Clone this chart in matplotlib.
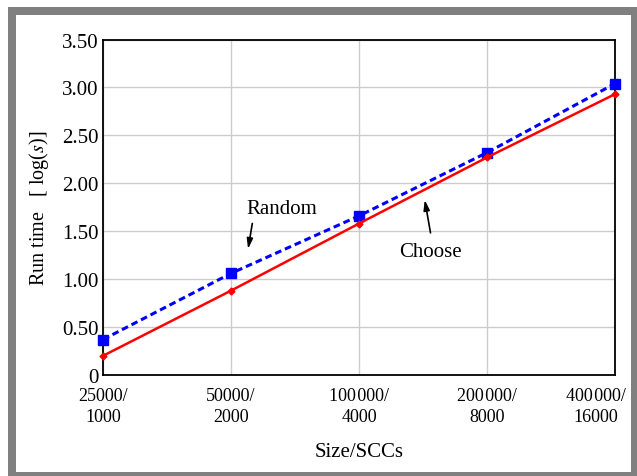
import numpy as np
import matplotlib.pyplot as plt
from matplotlib.patches import Rectangle
from matplotlib.ticker import FuncFormatter
from matplotlib.transforms import ScaledTranslation

plt.rcParams['font.family'] = ['Liberation Serif', 'DejaVu Serif']
plt.rcParams['mathtext.fontset'] = 'stix'

# data
sizes = ["25000/\n1000", "50000/\n2000", "100\u200a000/\n4000",
         "200\u200a000/\n8000", "400\u200a000/\n16000"]
random_time = [0.37, 1.06, 1.66, 2.32, 3.04]
choose_time = [0.20, 0.88, 1.58, 2.27, 2.93]

fig = plt.figure(figsize=(6.37, 4.77), dpi=100)

# grey frame round the picture
fig.patches.append(Rectangle((8/637, 0), 1 - 8/637, 469/477, transform=fig.transFigure,
                             facecolor='#808080', edgecolor='none', zorder=-10))
fig.patches.append(Rectangle((16/637, 4/477), 615/637, 457/477, transform=fig.transFigure,
                             facecolor='white', edgecolor='none', zorder=-9))

ax = fig.add_axes([103/637, 1 - 376/477, 512/637, 335.5/477])
x = np.arange(len(sizes))

ax.plot(x, random_time, color='#0000ff', lw=2.2, linestyle=(0, (2.2, 1.3)),
        marker='s', markersize=6.5, clip_on=False, zorder=3)
ax.plot(x, choose_time, color='#ff0000', lw=1.8, marker='D', markersize=3.5,
        clip_on=False, zorder=4)

ax.set_xlim(0, 4)
ax.set_ylim(0, 3.5)
ax.set_xticks(x)
ax.set_xticklabels(sizes, fontsize=13, linespacing=1.3)
ax.set_yticks(np.arange(0, 3.51, 0.5))
ax.yaxis.set_major_formatter(FuncFormatter(lambda v, p: "0" if v == 0 else f"{v:.2f}"))
ax.tick_params(axis='y', labelsize=15, length=0, pad=3)
ax.tick_params(axis='x', length=0, pad=9)
ax.grid(True, color='#cccccc', lw=1)
ax.set_axisbelow(True)
for s in ax.spines.values():
    s.set_color('black')
    s.set_linewidth(1.3)

# last x label kept inside the frame
lbl = ax.xaxis.get_majorticklabels()[-1]
lbl.set_transform(lbl.get_transform() + ScaledTranslation(-0.19, 0, fig.dpi_scale_trans))

ax.set_xlabel("Size/SCCs", fontsize=15, labelpad=12)
ax.set_ylabel("Run time   [ log($s$)]", fontsize=14.5, labelpad=8)

# annotations
ax.text(1.396, 1.733, "Random", fontsize=15, ha='center', va='center')
ax.annotate("", xy=(1.13, 1.287), xytext=(1.17, 1.61),
            arrowprops=dict(arrowstyle='-|>,head_length=0.6,head_width=0.18', color='black', lw=1.2))
ax.text(2.555, 1.284, "Choose", fontsize=15, ha='center', va='center')
ax.annotate("", xy=(2.51, 1.855), xytext=(2.5625, 1.454),
            arrowprops=dict(arrowstyle='-|>,head_length=0.6,head_width=0.18', color='black', lw=1.2))

fig.savefig("out.png", dpi=100)
